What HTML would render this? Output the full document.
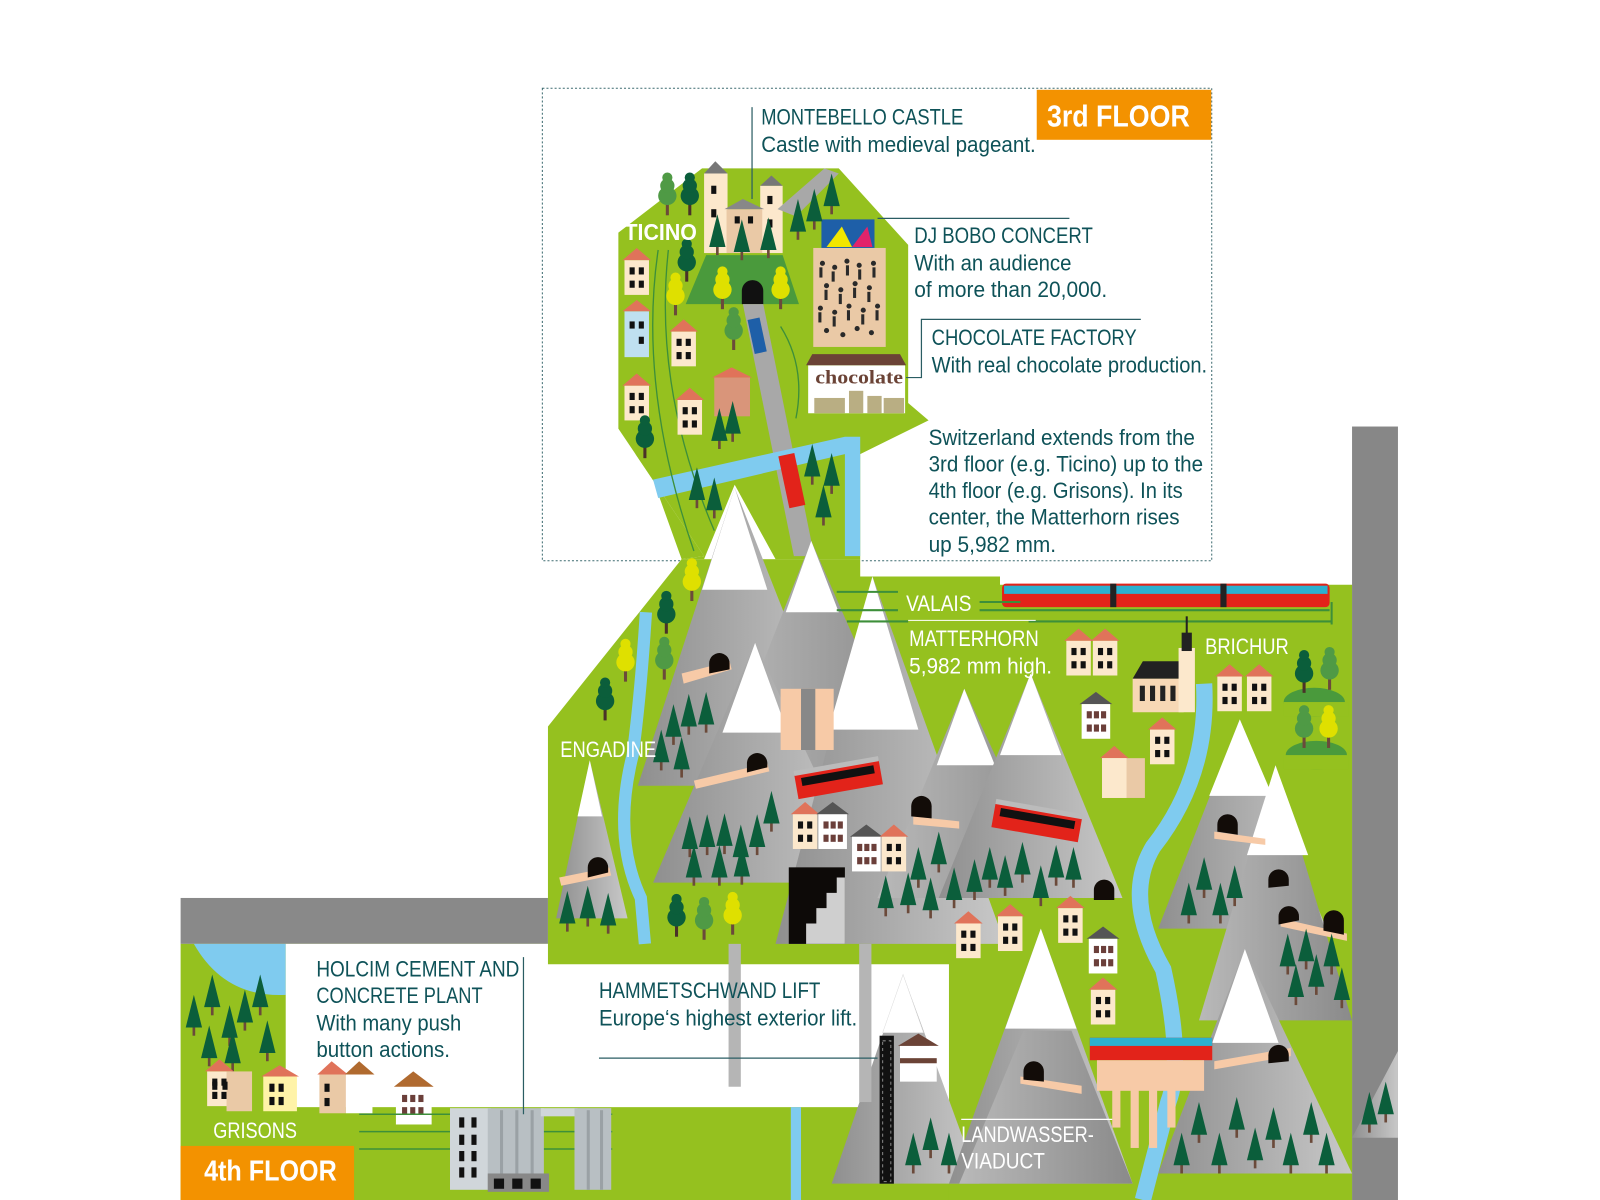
<!DOCTYPE html>
<html><head><meta charset="utf-8"><style>
html,body{margin:0;padding:0;background:#fff;width:1600px;height:1200px;overflow:hidden}
svg{display:block}
text{font-family:"Liberation Sans Narrow","Liberation Sans",sans-serif}
</style></head><body>
<svg width="1600" height="1200" viewBox="0 0 1568 1176" preserveAspectRatio="none" xmlns="http://www.w3.org/2000/svg">
<defs>
<linearGradient id="g" x1="0" x2="1" y1="0" y2="0"><stop offset="0" stop-color="#8f8f8f"/><stop offset="1" stop-color="#c8c8c8"/></linearGradient>
<linearGradient id="g2" x1="0" x2="1"><stop offset="0" stop-color="#b9b9b9"/><stop offset="1" stop-color="#8a8a8a"/></linearGradient>
<g id="t"><rect x="-1.3" y="0" width="2.6" height="10" fill="#6b4a3a"/><polygon points="0,-30 -8,2 8,2" fill="#0b5e3b"/></g>
<g id="rt"><rect x="-1.5" y="-5" width="3" height="16" fill="#4a3228"/><circle cx="0" cy="-8" r="9" fill="#0b5e3b"/><circle cx="0" cy="-18" r="7" fill="#0b5e3b"/><circle cx="0" cy="-26" r="5" fill="#0b5e3b"/></g>
<g id="lt"><rect x="-1.5" y="-5" width="3" height="16" fill="#6b4a3a"/><circle cx="0" cy="-8" r="9" fill="#4f9a45"/><circle cx="0" cy="-18" r="7" fill="#4f9a45"/><circle cx="0" cy="-26" r="5" fill="#4f9a45"/></g>
<g id="yt"><rect x="-1.5" y="-5" width="3" height="16" fill="#6b4a3a"/><circle cx="0" cy="-8" r="9" fill="#dfe000"/><circle cx="0" cy="-18" r="7" fill="#dfe000"/><circle cx="0" cy="-26" r="5" fill="#dfe000"/></g>
<g id="h1"><polygon points="-2,0 12,-12 26,0" fill="#e0735a"/><rect x="0" y="0" width="24" height="34" fill="#fce8cc"/><rect x="5" y="7" width="5" height="7" fill="#111"/><rect x="14" y="7" width="5" height="7" fill="#111"/><rect x="5" y="20" width="5" height="7" fill="#111"/><rect x="14" y="20" width="5" height="7" fill="#111"/></g>
<g id="h2"><polygon points="-2,0 14,-12 30,0" fill="#555"/><rect x="0" y="0" width="28" height="34" fill="#fff"/><rect x="5" y="7" width="5" height="7" fill="#6b3f3a"/><rect x="12" y="7" width="5" height="7" fill="#6b3f3a"/><rect x="19" y="7" width="5" height="7" fill="#6b3f3a"/><rect x="5" y="20" width="5" height="7" fill="#6b3f3a"/><rect x="12" y="20" width="5" height="7" fill="#6b3f3a"/><rect x="19" y="20" width="5" height="7" fill="#6b3f3a"/></g>
</defs>

<rect x="531.5" y="86.5" width="656" height="463" fill="none" stroke="#3d6b70" stroke-width="1" stroke-dasharray="2,2"/>
<rect x="1016" y="88" width="171" height="49" fill="#f39200"/>
<text x="1026" y="124" font-size="30" font-weight="bold" fill="#fff" textLength="140" lengthAdjust="spacingAndGlyphs" style="font-family:'Liberation Sans',sans-serif">3rd FLOOR</text>

<rect x="177" y="880" width="360" height="45" fill="#898989"/>
<rect x="1325" y="418" width="45" height="758" fill="#878787"/>

<rect x="177" y="925" width="1148" height="251" fill="#95c11f"/>
<path d="M190,925 L280,925 L280,975 Q220,978 190,925Z" fill="#7fcbef"/>
<rect x="280" y="925" width="650" height="160" fill="#fff"/>

<polygon points="688,165 822,165 890,240 890,395 910,412 843,445 843,548 668,548 690,545 606,420 606,228" fill="#95c11f"/>
<polygon points="668,548 843,548 843,565 980,565 980,573 1325,573 1325,1176 930,1176 930,945 537,945 537,712" fill="#95c11f"/>
<polygon points="606,420 690,545 668,548 640,470" fill="#95c11f"/>
<polygon points="690,548 720,475 760,548" fill="#fff"/>

<polygon points="672,298 783,298 767,250 692,250" fill="#4a9a3c"/>
<rect x="690" y="170" width="23" height="78" fill="#fce8cc"/><polygon points="690,170 701,158 713,170" fill="#777"/>
<rect x="745" y="182" width="22" height="66" fill="#fce8cc"/><polygon points="745,182 756,172 767,182" fill="#777"/>
<rect x="712" y="205" width="35" height="43" fill="#eac9a6"/><polygon points="710,205 728,195 749,205" fill="#888"/>
<g fill="#111"><rect x="697" y="182" width="5" height="8"/><rect x="697" y="205" width="5" height="8"/><rect x="752" y="192" width="5" height="8"/><rect x="752" y="215" width="5" height="8"/><rect x="720" y="212" width="5" height="7"/><rect x="733" y="212" width="5" height="7"/></g>
<path d="M727,298 V285 a10,10 0 0 1 21,0 V298Z" fill="#111"/>
<polygon points="728,298 748,298 798,545 778,545" fill="#a8a8a8"/>
<polygon points="762,205 808,165 822,170 780,212" fill="#a8a8a8"/>
<polygon points="640,470 828,428 843,428 843,545 828,545 828,445 645,488" fill="#7fcbef"/>
<rect x="736" y="312" width="12" height="34" fill="#1e5fa8" transform="rotate(-12 742 329)"/>
<rect x="768" y="445" width="16" height="52" fill="#e2231a" transform="rotate(-12 776 471)"/>
<rect x="805" y="215" width="52" height="30" fill="#1e5fa8"/>
<polygon points="810,242 825,222 835,242" fill="#f2e600"/><polygon points="835,242 850,222 855,242" fill="#e2236a"/>
<rect x="797" y="243" width="71" height="97" fill="#eac9a6"/>
<g fill="#2a2a2a">
<circle cx="806" cy="258" r="2.5"/><circle cx="818" cy="262" r="2.5"/><circle cx="830" cy="256" r="2.5"/><circle cx="842" cy="260" r="2.5"/><circle cx="856" cy="258" r="2.5"/>
<circle cx="810" cy="280" r="2.5"/><circle cx="824" cy="284" r="2.5"/><circle cx="838" cy="278" r="2.5"/><circle cx="852" cy="282" r="2.5"/>
<circle cx="804" cy="302" r="2.5"/><circle cx="818" cy="306" r="2.5"/><circle cx="832" cy="300" r="2.5"/><circle cx="846" cy="304" r="2.5"/><circle cx="860" cy="300" r="2.5"/>
<circle cx="810" cy="324" r="2.5"/><circle cx="826" cy="328" r="2.5"/><circle cx="840" cy="322" r="2.5"/><circle cx="854" cy="326" r="2.5"/>
<rect x="803" y="262" width="3" height="10"/><rect x="815" y="266" width="3" height="10"/><rect x="829" y="260" width="3" height="10"/><rect x="841" y="264" width="3" height="10"/><rect x="855" y="262" width="3" height="10"/>
<rect x="808" y="284" width="3" height="10"/><rect x="822" y="288" width="3" height="10"/><rect x="836" y="282" width="3" height="10"/><rect x="850" y="286" width="3" height="10"/>
<rect x="802" y="306" width="3" height="10"/><rect x="816" y="310" width="3" height="10"/><rect x="830" y="304" width="3" height="10"/><rect x="844" y="308" width="3" height="10"/><rect x="858" y="304" width="3" height="10"/>
</g>
<rect x="792" y="358" width="95" height="47" fill="#fff"/>
<polygon points="790,358 796,347 882,347 888,358" fill="#6b4336"/>
<text x="799" y="376" font-size="19" font-weight="bold" fill="#6b4336" style="font-family:'Liberation Serif',serif" textLength="86" lengthAdjust="spacingAndGlyphs">chocolate</text>
<rect x="798" y="390" width="30" height="15" fill="#b9ae83"/><rect x="832" y="383" width="14" height="22" fill="#b9ae83"/><rect x="850" y="388" width="14" height="17" fill="#b9ae83"/><rect x="866" y="390" width="20" height="15" fill="#b9ae83"/>
<g fill="none" stroke="#3d8f3a" stroke-width="1.3">
<path d="M655,245 Q640,380 700,520"/><path d="M645,245 Q625,380 680,540"/><path d="M765,320 Q790,360 780,410"/>
</g>
<use href="#h1" x="612" y="255"/><rect x="612" y="305" width="24" height="45" fill="#bfe0f0"/><polygon points="610,305 624,294 638,305" fill="#e0735a"/>
<g fill="#111"><rect x="617" y="315" width="5" height="7"/><rect x="626" y="315" width="5" height="7"/><rect x="626" y="330" width="5" height="7"/></g>
<use href="#h1" x="612" y="378"/><use href="#h1" x="658" y="325"/><use href="#h1" x="664" y="392"/>
<rect x="700" y="370" width="35" height="38" fill="#d9957a"/><polygon points="698,370 717,360 737,370" fill="#e0735a"/>
<use href="#lt" x="654" y="200"/><use href="#rt" x="676" y="200"/><use href="#rt" x="673" y="265"/><use href="#yt" x="662" y="298"/>
<use href="#yt" x="708" y="292"/><use href="#yt" x="765" y="292"/><use href="#lt" x="719" y="332"/><use href="#rt" x="632" y="438"/>
<use href="#t" x="703" y="240"/><use href="#t" x="727" y="245"/><use href="#t" x="753" y="243"/><use href="#t" x="782" y="225"/><use href="#t" x="798" y="215"/><use href="#t" x="815" y="200"/>
<use href="#t" x="705" y="430"/><use href="#t" x="718" y="423"/><use href="#t" x="683" y="488"/><use href="#t" x="700" y="498"/><use href="#t" x="796" y="465"/><use href="#t" x="815" y="474"/><use href="#t" x="807" y="505"/>
<text x="612" y="235" font-size="23" font-weight="bold" fill="#fff" textLength="71" lengthAdjust="spacingAndGlyphs">TICINO</text>

<path d="M633,600 Q628,680 620,740 Q600,820 628,880 L632,925" fill="none" stroke="#7fcbef" stroke-width="12"/>
<path d="M1180,670 Q1185,760 1130,830 Q1100,880 1140,950 Q1160,1040 1145,1080 L1120,1176" fill="none" stroke="#7fcbef" stroke-width="16"/>
<rect x="775" y="1085" width="10" height="91" fill="#7fcbef"/>

<g>
<polygon points="720,478 625,770 835,770" fill="url(#g)"/><polygon points="720,478 688,578 752,578" fill="#fff"/>
<polygon points="795,530 700,770 900,770" fill="url(#g2)"/><polygon points="795,530 770,600 822,600" fill="#fff"/>
<polygon points="578,745 545,900 615,900" fill="url(#g)"/><polygon points="578,745 566,800 590,800" fill="#fff"/>
<polygon points="740,630 640,865 850,865" fill="url(#g)"/><polygon points="740,630 708,718 772,718" fill="#fff"/>
<polygon points="855,565 760,925 985,925" fill="url(#g)"/><polygon points="855,565 812,715 900,715" fill="#fff"/>
<polygon points="945,675 860,880 1040,880" fill="url(#g2)"/><polygon points="945,675 918,750 975,750" fill="#fff"/>
<polygon points="1010,660 920,880 1100,880" fill="url(#g)"/><polygon points="1010,660 980,740 1040,740" fill="#fff"/>
<polygon points="1215,705 1135,910 1300,910" fill="url(#g)"/><polygon points="1215,705 1185,780 1247,780" fill="#fff"/>
<polygon points="1250,750 1175,1000 1325,1000" fill="url(#g2)"/><polygon points="1250,750 1222,838 1282,838" fill="#fff"/>
<polygon points="885,955 815,1160 960,1160" fill="url(#g)"/><polygon points="885,955 865,1012 905,1012" fill="#fff" stroke="#ddd" stroke-width="0.5"/>
<polygon points="1020,910 930,1160 1110,1160" fill="url(#g)"/><polygon points="1020,910 985,1008 1055,1008" fill="#fff"/>
<polygon points="1003,1010 1050,1010 1110,1160 940,1160" fill="url(#g2)"/>
<polygon points="1220,930 1135,1150 1325,1150" fill="url(#g)"/><polygon points="1220,930 1188,1022 1253,1022" fill="#fff"/>
<polygon points="1370,1030 1325,1115 1370,1115" fill="url(#g)"/>
</g>
<rect x="1068" y="1017" width="120" height="22" fill="#e2231a"/><rect x="1068" y="1017" width="120" height="8" fill="#2cb0cf"/>
<rect x="1075" y="1039" width="105" height="30" fill="#f7caa7"/>
<g fill="#f7caa7"><rect x="1090" y="1065" width="8" height="40"/><rect x="1108" y="1065" width="8" height="60"/><rect x="1126" y="1065" width="8" height="60"/><rect x="1144" y="1065" width="8" height="40"/></g>
<rect x="773" y="850" width="55" height="75" fill="#0d0a08"/>
<polygon points="790,925 790,905 800,905 800,890 810,890 810,875 820,875 820,860 828,860 828,925" fill="#cfcfcf"/>
<rect x="765" y="675" width="52" height="60" fill="#f7caa7"/><rect x="785" y="675" width="14" height="60" fill="#888"/>
<g fill="#f7caa7"><polygon points="668,660 715,648 717,656 670,670"/><polygon points="680,765 752,748 754,756 682,773"/><polygon points="548,860 597,850 599,858 550,868"/><polygon points="895,800 940,805 940,812 895,808"/><polygon points="1190,815 1240,822 1240,828 1190,822"/><polygon points="1255,900 1320,915 1320,922 1255,908"/><polygon points="1000,1055 1060,1064 1060,1072 1000,1062"/><polygon points="1190,1040 1265,1027 1265,1035 1190,1048"/></g>
<g fill="#120c08">
<path d="M695,660 V650 a10,10 0 0 1 20,0 V656Z"/><path d="M732,757 V748 a10,10 0 0 1 20,0 V752Z"/><path d="M576,860 V850 a10,10 0 0 1 20,0 V855Z"/>
<path d="M893,800 V790 a10,10 0 0 1 20,0 V802Z"/><path d="M1072,882 V872 a10,10 0 0 1 20,0 V882Z"/><path d="M1193,815 V808 a10,10 0 0 1 20,0 V818Z"/>
<path d="M1243,870 V862 a10,10 0 0 1 20,0 V868Z"/><path d="M1253,906 V898 a10,10 0 0 1 20,0 V902Z"/><path d="M1297,912 V902 a10,10 0 0 1 20,0 V916Z"/>
<path d="M1003,1058 V1050 a10,10 0 0 1 20,0 V1060Z"/><path d="M1243,1042 V1034 a10,10 0 0 1 20,0 V1040Z"/>
</g>
<g transform="rotate(-10 822 765)"><rect x="780" y="752" width="84" height="24" fill="#e2231a"/><rect x="786" y="756" width="72" height="8" fill="#111"/><rect x="780" y="748" width="84" height="5" fill="#bbb"/></g>
<g transform="rotate(10 1015 806)"><rect x="973" y="794" width="86" height="24" fill="#e2231a"/><rect x="979" y="798" width="74" height="8" fill="#111"/><rect x="973" y="790" width="86" height="5" fill="#bbb"/></g>
<rect x="982" y="572" width="321" height="23" rx="4" fill="#e2231a"/>
<rect x="984" y="574" width="317" height="8" fill="#2cb0cf"/>
<rect x="1088" y="572" width="6" height="23" fill="#222"/><rect x="1196" y="572" width="6" height="23" fill="#222"/>
<g stroke="#3d8f3a" stroke-width="2"><line x1="820" y1="580" x2="880" y2="580"/><line x1="820" y1="598" x2="880" y2="598"/><line x1="960" y1="590" x2="1000" y2="590"/><line x1="960" y1="598" x2="1303" y2="598"/><line x1="1008" y1="609" x2="1305" y2="609"/><line x1="830" y1="609" x2="890" y2="609"/><line x1="1305" y1="590" x2="1305" y2="612"/></g>
<line x1="890" y1="608" x2="1015" y2="608" stroke="#fff" stroke-width="1"/>
<rect x="1110" y="665" width="50" height="33" fill="#f7d8b5"/><polygon points="1110,665 1120,648 1160,648 1160,665" fill="#222"/>
<rect x="1155" y="635" width="16" height="63" fill="#fce8cc"/><rect x="1158" y="620" width="10" height="18" fill="#222"/><rect x="1162" y="604" width="2" height="18" fill="#222"/>
<g fill="#222"><rect x="1117" y="672" width="5" height="15"/><rect x="1127" y="672" width="5" height="15"/><rect x="1137" y="672" width="5" height="15"/><rect x="1147" y="672" width="5" height="15"/></g>
<use href="#h1" x="1045" y="628"/><use href="#h1" x="1071" y="628"/><use href="#h2" x="1060" y="690"/><use href="#h1" x="1127" y="715"/><use href="#h1" x="1080" y="743"/><rect x="1080" y="743" width="42" height="39" fill="#eac9a6"/><rect x="1080" y="743" width="24" height="39" fill="#fce8cc"/>
<use href="#h1" x="1193" y="663"/><use href="#h1" x="1222" y="663"/>
<ellipse cx="1288" cy="688" rx="30" ry="14" fill="#4a9a3c"/><ellipse cx="1290" cy="740" rx="30" ry="14" fill="#4a9a3c"/>
<rect x="1258" y="688" width="64" height="14" fill="#95c11f"/><rect x="1258" y="740" width="64" height="14" fill="#95c11f"/>
<use href="#rt" x="1278" y="668"/><use href="#lt" x="1303" y="665"/><use href="#lt" x="1278" y="722"/><use href="#yt" x="1302" y="722"/>
<use href="#h1" x="777" y="798"/><use href="#h2" x="802" y="798"/><use href="#h2" x="835" y="820"/><use href="#h1" x="864" y="820"/>
<use href="#h1" x="937" y="905"/><use href="#h1" x="978" y="898"/><use href="#h1" x="1037" y="890"/><use href="#h2" x="1067" y="920"/><use href="#h1" x="1069" y="970"/>
<use href="#yt" x="678" y="578"/><use href="#rt" x="653" y="610"/><use href="#lt" x="651" y="655"/><use href="#yt" x="613" y="657"/><use href="#rt" x="593" y="695"/>
<use href="#rt" x="663" y="907"/><use href="#lt" x="690" y="910"/><use href="#yt" x="718" y="905"/>
<g>
<use href="#t" x="660" y="720"/><use href="#t" x="675" y="710"/><use href="#t" x="692" y="708"/><use href="#t" x="648" y="745"/><use href="#t" x="668" y="752"/>
<use href="#t" x="676" y="830"/><use href="#t" x="693" y="828"/><use href="#t" x="710" y="827"/><use href="#t" x="726" y="838"/><use href="#t" x="742" y="828"/><use href="#t" x="680" y="858"/><use href="#t" x="705" y="858"/><use href="#t" x="727" y="857"/><use href="#t" x="756" y="805"/>
<use href="#t" x="556" y="903"/><use href="#t" x="576" y="898"/><use href="#t" x="596" y="905"/>
<use href="#t" x="868" y="888"/><use href="#t" x="890" y="885"/><use href="#t" x="912" y="890"/><use href="#t" x="900" y="860"/><use href="#t" x="920" y="845"/><use href="#t" x="935" y="880"/><use href="#t" x="955" y="872"/>
<use href="#t" x="970" y="860"/><use href="#t" x="985" y="868"/><use href="#t" x="1002" y="855"/><use href="#t" x="1020" y="878"/><use href="#t" x="1035" y="858"/><use href="#t" x="1052" y="860"/>
<use href="#t" x="1165" y="895"/><use href="#t" x="1180" y="870"/><use href="#t" x="1196" y="895"/><use href="#t" x="1210" y="878"/>
<use href="#t" x="1262" y="945"/><use href="#t" x="1280" y="940"/><use href="#t" x="1305" y="945"/><use href="#t" x="1270" y="975"/><use href="#t" x="1290" y="965"/><use href="#t" x="1315" y="978"/>
<use href="#t" x="1158" y="1140"/><use href="#t" x="1175" y="1110"/><use href="#t" x="1195" y="1140"/><use href="#t" x="1212" y="1105"/><use href="#t" x="1230" y="1135"/><use href="#t" x="1248" y="1115"/><use href="#t" x="1265" y="1140"/><use href="#t" x="1285" y="1110"/><use href="#t" x="1300" y="1140"/>
<use href="#t" x="895" y="1140"/><use href="#t" x="912" y="1125"/><use href="#t" x="930" y="1140"/>
<use href="#t" x="1342" y="1100"/><use href="#t" x="1358" y="1090"/>
<use href="#t" x="190" y="1005"/><use href="#t" x="208" y="985"/><use href="#t" x="225" y="1015"/><use href="#t" x="240" y="1000"/><use href="#t" x="255" y="985"/><use href="#t" x="205" y="1035"/><use href="#t" x="228" y="1040"/><use href="#t" x="262" y="1030"/>
</g>
<rect x="842" y="925" width="12" height="155" fill="#b5b5b5"/><rect x="714" y="925" width="12" height="140" fill="#b5b5b5"/>
<rect x="862" y="1015" width="14" height="145" fill="#111"/><rect x="865" y="1020" width="8" height="138" fill="none" stroke="#888" stroke-dasharray="3,3"/>
<rect x="882" y="1025" width="36" height="35" fill="#fff"/><rect x="882" y="1037" width="36" height="5" fill="#6b4336"/><polygon points="880,1025 900,1013 920,1025" fill="#6b4336"/>
<use href="#h1" x="203" y="1050"/><rect x="222" y="1050" width="25" height="39" fill="#eac9a6"/>
<rect x="258" y="1055" width="33" height="34" fill="#fff3a8"/><polygon points="256,1055 274,1044 293,1055" fill="#e0735a"/>
<rect x="313" y="1053" width="26" height="38" fill="#eac9a6"/><polygon points="311,1053 325,1040 341,1053" fill="#e0735a"/>
<rect x="339" y="1053" width="26" height="38" fill="#fff"/><polygon points="338,1053 352,1040 367,1053" fill="#b06a2f"/>
<rect x="388" y="1065" width="35" height="37" fill="#fff"/><polygon points="386,1065 405,1050 425,1065" fill="#b06a2f"/>
<g fill="#111"><rect x="208" y="1060" width="5" height="8"/><rect x="218" y="1060" width="5" height="8"/><rect x="264" y="1062" width="5" height="8"/><rect x="273" y="1062" width="5" height="8"/><rect x="264" y="1075" width="5" height="8"/><rect x="273" y="1075" width="5" height="8"/><rect x="318" y="1062" width="5" height="8"/><rect x="318" y="1076" width="5" height="8"/></g>
<g fill="#6b3f3a"><rect x="394" y="1073" width="5" height="7"/><rect x="402" y="1073" width="5" height="7"/><rect x="410" y="1073" width="5" height="7"/><rect x="394" y="1085" width="5" height="7"/><rect x="402" y="1085" width="5" height="7"/><rect x="410" y="1085" width="5" height="7"/></g>
<g stroke="#3d8f3a" stroke-width="1.5"><line x1="352" y1="1092" x2="600" y2="1092"/><line x1="352" y1="1109" x2="600" y2="1109"/><line x1="352" y1="1126" x2="600" y2="1126"/></g>
<rect x="441" y="1086" width="40" height="80" fill="#d0d6da"/>
<rect x="478" y="1086" width="55" height="80" fill="#b8bfc3"/><rect x="530" y="1086" width="36" height="8" fill="#d0d6da"/>
<rect x="563" y="1086" width="36" height="80" fill="#b8bfc3"/>
<g fill="#9aa1a5"><rect x="490" y="1088" width="3" height="78"/><rect x="505" y="1088" width="3" height="78"/><rect x="520" y="1088" width="3" height="78"/><rect x="575" y="1088" width="3" height="78"/><rect x="588" y="1088" width="3" height="78"/></g>
<rect x="478" y="1150" width="60" height="18" fill="#888"/>
<g fill="#111"><rect x="450" y="1095" width="5" height="10"/><rect x="462" y="1095" width="5" height="10"/><rect x="450" y="1112" width="5" height="10"/><rect x="462" y="1112" width="5" height="10"/><rect x="450" y="1128" width="5" height="10"/><rect x="462" y="1128" width="5" height="10"/><rect x="450" y="1144" width="5" height="10"/><rect x="462" y="1144" width="5" height="10"/><rect x="484" y="1155" width="10" height="10"/><rect x="502" y="1155" width="10" height="10"/><rect x="520" y="1155" width="10" height="10"/></g>

<g stroke="#2a5d63" stroke-width="1.2" fill="none">
<line x1="737" y1="105" x2="737" y2="195"/>
<line x1="860" y1="214" x2="1048" y2="214"/>
<polyline points="1118,313 903,313 903,370 888,370"/>
<line x1="513" y1="938" x2="513" y2="1092"/>
<line x1="587" y1="1037" x2="860" y2="1037"/>
</g>

<g fill="#0e5258" font-size="22">
<text x="746" y="122" textLength="198" lengthAdjust="spacingAndGlyphs">MONTEBELLO CASTLE</text>
<text x="746" y="149" textLength="269" lengthAdjust="spacingAndGlyphs">Castle with medieval pageant.</text>
<text x="896" y="238" textLength="175" lengthAdjust="spacingAndGlyphs">DJ BOBO CONCERT</text>
<text x="896" y="265" textLength="154" lengthAdjust="spacingAndGlyphs">With an audience</text>
<text x="896" y="291" textLength="189" lengthAdjust="spacingAndGlyphs">of more than 20,000.</text>
<text x="913" y="338" textLength="201" lengthAdjust="spacingAndGlyphs">CHOCOLATE FACTORY</text>
<text x="913" y="365" textLength="270" lengthAdjust="spacingAndGlyphs">With real chocolate production.</text>
<text x="910" y="436" textLength="261" lengthAdjust="spacingAndGlyphs">Switzerland extends from the</text>
<text x="910" y="462" textLength="269" lengthAdjust="spacingAndGlyphs">3rd floor (e.g. Ticino) up to the</text>
<text x="910" y="488" textLength="249" lengthAdjust="spacingAndGlyphs">4th floor (e.g. Grisons). In its</text>
<text x="910" y="514" textLength="246" lengthAdjust="spacingAndGlyphs">center, the Matterhorn rises</text>
<text x="910" y="541" textLength="125" lengthAdjust="spacingAndGlyphs">up 5,982 mm.</text>
<text x="310" y="957" textLength="199" lengthAdjust="spacingAndGlyphs">HOLCIM CEMENT AND</text>
<text x="310" y="983" textLength="163" lengthAdjust="spacingAndGlyphs">CONCRETE PLANT</text>
<text x="310" y="1010" textLength="142" lengthAdjust="spacingAndGlyphs">With many push</text>
<text x="310" y="1036" textLength="131" lengthAdjust="spacingAndGlyphs">button actions.</text>
<text x="587" y="978" textLength="217" lengthAdjust="spacingAndGlyphs">HAMMETSCHWAND LIFT</text>
<text x="587" y="1005" textLength="253" lengthAdjust="spacingAndGlyphs">Europe‘s highest exterior lift.</text>
</g>
<g fill="#fff" font-size="22">
<text x="888" y="599" textLength="64" lengthAdjust="spacingAndGlyphs">VALAIS</text>
<text x="891" y="633" textLength="127" lengthAdjust="spacingAndGlyphs">MATTERHORN</text>
<text x="891" y="660" textLength="140" lengthAdjust="spacingAndGlyphs">5,982 mm high.</text>
<text x="1181" y="641" textLength="82" lengthAdjust="spacingAndGlyphs">BRICHUR</text>
<text x="549" y="742" textLength="94" lengthAdjust="spacingAndGlyphs">ENGADINE</text>
<text x="209" y="1115" textLength="82" lengthAdjust="spacingAndGlyphs">GRISONS</text>
<text x="942" y="1119" textLength="130" lengthAdjust="spacingAndGlyphs">LANDWASSER-</text>
<text x="942" y="1145" textLength="82" lengthAdjust="spacingAndGlyphs">VIADUCT</text>
</g>
<line x1="942" y1="1097" x2="1090" y2="1097" stroke="#fff" stroke-width="1.2"/>
<rect x="177" y="1123" width="170" height="53" fill="#f39200"/>
<text x="200" y="1157" font-size="28" font-weight="bold" fill="#fff" textLength="130" lengthAdjust="spacingAndGlyphs" style="font-family:'Liberation Sans',sans-serif">4th FLOOR</text>
</svg>
</body></html>
